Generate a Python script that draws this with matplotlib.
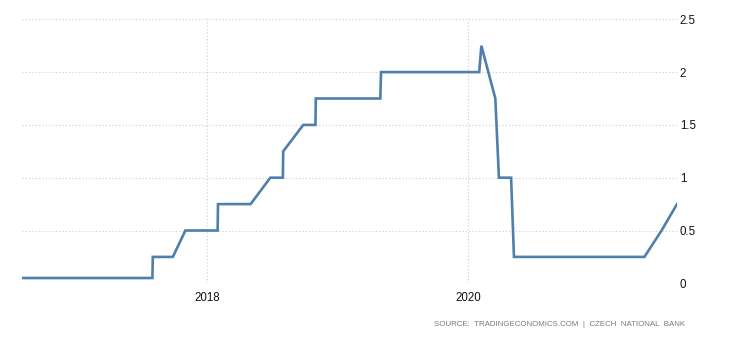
import matplotlib
matplotlib.use("Agg")
import matplotlib.pyplot as plt
import numpy as np

# Czech National Bank policy rate (%), observations at decision dates
dates = [
    "2016-08-03", "2017-08-02", "2017-08-03", "2017-09-28", "2017-11-02",
    "2018-01-31", "2018-02-01", "2018-05-03", "2018-06-27", "2018-08-01",
    "2018-08-02", "2018-09-27", "2018-10-31", "2018-11-01", "2019-04-30",
    "2019-05-02", "2020-01-31", "2020-02-06", "2020-03-16", "2020-03-26",
    "2020-04-29", "2020-05-07", "2021-05-06", "2021-06-23", "2021-08-05",
]
rates = [
    0.05, 0.05, 0.25, 0.25, 0.50,
    0.50, 0.75, 0.75, 1.00, 1.00,
    1.25, 1.50, 1.50, 1.75, 1.75,
    2.00, 2.00, 2.25, 1.75, 1.00,
    1.00, 0.25, 0.25, 0.50, 0.75,
]
year_ticks = ["2018-01-01", "2020-01-01"]
year_labels = ["2018", "2020"]
y_ticks = [0, 0.5, 1, 1.5, 2, 2.5]
y_labels = ["0", "0.5", "1", "1.5", "2", "2.5"]

x = np.array(dates, dtype="datetime64[D]")

W, H = 730, 340
fig = plt.figure(figsize=(W / 100, H / 100), dpi=100)
left, right = 22, 677
top, bottom = 19.3, 283.3
ax = fig.add_axes([left / W, 1 - bottom / H, (right - left) / W, (bottom - top) / H])

ax.plot(x, rates, color="#4f7fab", linewidth=1.9, solid_joinstyle="miter", zorder=3)

ax.set_xlim(x[0], x[-1])
ax.set_ylim(0, 2.5)

ax.set_xticks(np.array(year_ticks, dtype="datetime64[D]"))
ax.set_xticklabels(year_labels)
ax.set_yticks(y_ticks)
ax.set_yticklabels(y_labels)

ax.yaxis.tick_right()
for lab in ax.get_yticklabels():
    lab.set_horizontalalignment("left")
ax.tick_params(axis="both", length=0, labelsize=8.3, labelcolor="#111111")
ax.tick_params(axis="y", pad=2)
ax.tick_params(axis="x", pad=6)
for lab in ax.get_xticklabels() + ax.get_yticklabels():
    lab.set_fontfamily("Liberation Sans")

ax.grid(True, color="#cccccc", linestyle=(0, (1, 2)), linewidth=0.8, zorder=0)
ax.set_axisbelow(True)
for s in ax.spines.values():
    s.set_visible(False)

fig.text(685 / W, 1 - 325 / H,
         "SOURCE:  TRADINGECONOMICS.COM  |  CZECH  NATIONAL  BANK",
         ha="right", va="center", fontsize=5.7, color="#7a7a7a",
         family="Liberation Sans")

fig.savefig("out.png", dpi=100, facecolor="white")
